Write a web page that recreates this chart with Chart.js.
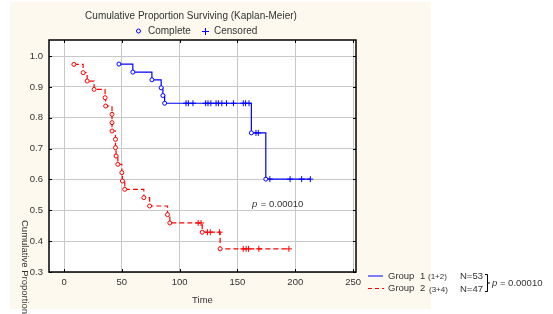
<!DOCTYPE html>
<html>
<head>
<meta charset="utf-8">
<script src="https://cdn.jsdelivr.net/npm/chart.js@4.4.0/dist/chart.umd.min.js"></script>
<style>
    html, body { margin: 0; padding: 0; background: #ffffff; }
</style>
</head>
<body>
<canvas id="kmChart" width="553" height="314"></canvas>
<script>
(function () {
    "use strict";
    // Group 1 (1+2): complete (event) times and survival
    const blueEventTimes = [47.5, 59.5, 76, 84, 85.5, 87, 162, 174.5];
    const blueEventSurv = [0.974, 0.948, 0.923, 0.897, 0.872, 0.847, 0.751, 0.601];
    // Group 1 censored observations
    const blueCensorTimes = [105.5, 107.5, 111.5, 122.5, 124.5, 127, 131.5, 133.5, 136.5, 140.5, 146.5, 155, 157, 160, 166, 168, 178, 195.5, 205.5, 213];
    const blueCensorSurv = [0.847, 0.847, 0.847, 0.847, 0.847, 0.847, 0.847, 0.847, 0.847, 0.847, 0.847, 0.847, 0.847, 0.847, 0.751, 0.751, 0.601, 0.601, 0.601, 0.601];
    // Group 2 (3+4): complete (event) times and survival
    const redEventTimes = [8.5, 16.5, 20, 26, 35.5, 36, 41.5, 41.5, 41.5, 44.5, 44.5, 45, 46.5, 50, 50.5, 52.5, 69, 74, 89.5, 91.5, 119.5, 135];
    const redEventSurv = [0.973, 0.946, 0.919, 0.892, 0.865, 0.838, 0.811, 0.784, 0.757, 0.730, 0.703, 0.676, 0.649, 0.622, 0.595, 0.568, 0.541, 0.514, 0.486, 0.459, 0.429, 0.375];
    // Group 2 censored observations
    const redCensorTimes = [116, 118.5, 124, 126.5, 134.5, 155, 157.5, 159.5, 168.5, 194.5];
    const redCensorSurv = [0.459, 0.459, 0.429, 0.429, 0.429, 0.375, 0.375, 0.375, 0.375, 0.375];
    // Axis ticks
    const xTicks = [0, 50, 100, 150, 200, 250];
    const yTicks = [0.3, 0.4, 0.5, 0.6, 0.7, 0.8, 0.9, 1.0];

    const FONT = '"Liberation Sans", Arial, sans-serif';
    const TEXT = '#333333';
    const BLUE = '#0000ff';
    const RED = '#ff0000';

    const toPoints = function (times, values) {
        return times.map(function (t, i) {
            return { x: t, y: values[i] };
        });
    };
    // step line goes through events and censored points in time order
    const stepPoints = function (eT, eS, cT, cS) {
        return toPoints(eT, eS).concat(toPoints(cT, cS)).sort(function (a, b) {
            return a.x - b.x || b.y - a.y;
        });
    };

    const framePlugin = {
        id: 'frame',
        beforeDraw: function (chart) {
            const ctx = chart.ctx;
            const a = chart.chartArea;
            ctx.save();
            ctx.fillStyle = '#ffffff';
            ctx.fillRect(0, 0, chart.width, chart.height);
            ctx.fillStyle = '#fdf9ee';
            ctx.fillRect(10, 2, 421, 307);
            ctx.fillStyle = '#ffffff';
            ctx.fillRect(a.left, a.top, a.right - a.left, a.bottom - a.top);
            ctx.restore();
        },
        afterDraw: function (chart) {
            const ctx = chart.ctx;
            const a = chart.chartArea;
            const xs = chart.scales.x;
            const ys = chart.scales.y;
            ctx.save();
            // frame and inward ticks
            ctx.strokeStyle = '#000000';
            ctx.lineWidth = 1.5;
            ctx.strokeRect(a.left, a.top, a.right - a.left, a.bottom - a.top);
            ctx.lineWidth = 1;
            ctx.beginPath();
            xTicks.forEach(function (v) {
                const px = Math.round(xs.getPixelForValue(v)) + 0.5;
                ctx.moveTo(px, a.top); ctx.lineTo(px, a.top + 3);
                ctx.moveTo(px, a.bottom); ctx.lineTo(px, a.bottom - 3);
            });
            yTicks.forEach(function (v) {
                const py = Math.round(ys.getPixelForValue(v)) + 0.5;
                ctx.moveTo(a.left, py); ctx.lineTo(a.left + 3, py);
                ctx.moveTo(a.right, py); ctx.lineTo(a.right - 3, py);
            });
            ctx.stroke();

            // title and marker legend
            ctx.fillStyle = TEXT;
            ctx.textBaseline = 'middle';
            ctx.textAlign = 'center';
            ctx.font = '10px ' + FONT;
            ctx.fillText('Cumulative Proportion Surviving (Kaplan-Meier)', 191, 16);
            ctx.textAlign = 'left';
            ctx.fillText('Complete', 148, 31);
            ctx.fillText('Censored', 214, 31);
            ctx.strokeStyle = BLUE;
            ctx.beginPath();
            ctx.arc(138.5, 31, 2, 0, Math.PI * 2);
            ctx.stroke();
            ctx.beginPath();
            ctx.moveTo(202, 31.5); ctx.lineTo(209, 31.5);
            ctx.moveTo(205.5, 28); ctx.lineTo(205.5, 35);
            ctx.stroke();

            // y axis title, reading downwards
            ctx.save();
            ctx.translate(25, 220);
            ctx.rotate(Math.PI / 2);
            ctx.fillStyle = TEXT;
            ctx.font = '9.5px ' + FONT;
            ctx.fillText('Cumulative Proportion', 0, 0);
            ctx.restore();

            // p value inside the plot
            const px = xs.getPixelForValue(162.5);
            const py = ys.getPixelForValue(0.518);
            ctx.font = 'italic 9.5px ' + FONT;
            ctx.fillText('p', px, py);
            ctx.font = '9.5px ' + FONT;
            ctx.fillText('= 0.00010', px + ctx.measureText('p ').width + 1, py);

            // group legend
            ctx.lineWidth = 1;
            ctx.strokeStyle = BLUE;
            ctx.beginPath();
            ctx.moveTo(368, 276); ctx.lineTo(383, 276);
            ctx.stroke();
            ctx.strokeStyle = RED;
            ctx.setLineDash([4, 3]);
            ctx.beginPath();
            ctx.moveTo(368, 288.5); ctx.lineTo(384, 288.5);
            ctx.stroke();
            ctx.setLineDash([]);
            ctx.font = '9.5px ' + FONT;
            ctx.fillText('Group', 388, 276);
            ctx.fillText('1', 420, 276);
            ctx.fillText('Group', 388, 288);
            ctx.fillText('2', 420, 288);
            ctx.fillText('N=53', 460, 276);
            ctx.fillText('N=47', 460, 289);
            ctx.font = '8px ' + FONT;
            ctx.fillText('(1+2)', 428, 277);
            ctx.fillText('(3+4)', 429, 290);
            // brace
            ctx.strokeStyle = '#000000';
            ctx.beginPath();
            ctx.moveTo(485, 274.5);
            ctx.lineTo(487.5, 274.5);
            ctx.lineTo(487.5, 291.5);
            ctx.lineTo(485, 291.5);
            ctx.moveTo(487.5, 283);
            ctx.lineTo(490, 283);
            ctx.stroke();
            ctx.font = 'italic 9.5px ' + FONT;
            ctx.fillText('p', 492, 283);
            ctx.font = '9.5px ' + FONT;
            ctx.fillText('= 0.00010', 492 + ctx.measureText('p ').width, 283);
            ctx.restore();
        }
    };

    const context = document.getElementById('kmChart').getContext('2d');
    const chart = new Chart(context, {
        type: 'scatter',
        data: {
            datasets: [{
                label: 'Group 1 complete',
                data: toPoints(blueEventTimes, blueEventSurv),
                pointStyle: 'circle',
                pointRadius: 2,
                borderWidth: 1,
                borderColor: BLUE,
                backgroundColor: '#ffffff',
                order: 1
            }, {
                label: 'Group 1 censored',
                data: toPoints(blueCensorTimes, blueCensorSurv),
                pointStyle: 'cross',
                pointRadius: 3,
                borderWidth: 1,
                borderColor: BLUE,
                order: 1
            }, {
                label: 'Group 2 complete',
                data: toPoints(redEventTimes, redEventSurv),
                pointStyle: 'circle',
                pointRadius: 2,
                borderWidth: 1,
                borderColor: RED,
                backgroundColor: '#ffffff',
                order: 1
            }, {
                label: 'Group 2 censored',
                data: toPoints(redCensorTimes, redCensorSurv),
                pointStyle: 'cross',
                pointRadius: 3,
                borderWidth: 1,
                borderColor: RED,
                order: 1
            }, {
                type: 'line',
                label: 'Group 1',
                data: stepPoints(blueEventTimes, blueEventSurv, blueCensorTimes, blueCensorSurv),
                stepped: true,
                fill: false,
                borderColor: BLUE,
                borderWidth: 1.2,
                pointRadius: 0,
                order: 2
            }, {
                type: 'line',
                label: 'Group 2',
                data: stepPoints(redEventTimes, redEventSurv, redCensorTimes, redCensorSurv),
                stepped: true,
                fill: false,
                borderColor: RED,
                borderDash: [5, 3],
                borderWidth: 1.2,
                pointRadius: 0,
                order: 2
            }]
        },
        options: {
            responsive: false,
            animation: false,
            layout: {
                padding: { left: 0, top: 40, right: 197, bottom: 0 }
            },
            scales: {
                x: {
                    type: 'linear',
                    min: -13,
                    max: 252.5,
                    afterBuildTicks: function (scale) {
                        scale.ticks = xTicks.map(function (v) { return { value: v }; });
                    },
                    afterFit: function (scale) {
                        scale.height = 42;
                    },
                    ticks: {
                        padding: 5,
                        color: TEXT,
                        font: { family: FONT, size: 9.5 },
                        maxRotation: 0
                    },
                    grid: {
                        color: '#c8c8c8',
                        lineWidth: 1,
                        drawTicks: false
                    },
                    border: { display: false },
                    title: {
                        display: true,
                        text: 'Time',
                        color: TEXT,
                        font: { family: FONT, size: 9.5 },
                        padding: { top: 0, bottom: 8 }
                    }
                },
                y: {
                    type: 'linear',
                    min: 0.3,
                    max: 1.052,
                    afterBuildTicks: function (scale) {
                        scale.ticks = yTicks.map(function (v) { return { value: v }; });
                    },
                    afterFit: function (scale) {
                        scale.width = 49;
                    },
                    ticks: {
                        padding: 6,
                        color: TEXT,
                        font: { family: FONT, size: 9.5 },
                        callback: function (value) {
                            return value.toFixed(1);
                        }
                    },
                    grid: {
                        color: '#c8c8c8',
                        lineWidth: 1,
                        drawTicks: false
                    },
                    border: { display: false }
                }
            },
            plugins: {
                legend: { display: false },
                tooltip: { enabled: false }
            }
        },
        plugins: [framePlugin]
    });
}());
</script>
</body>
</html>
